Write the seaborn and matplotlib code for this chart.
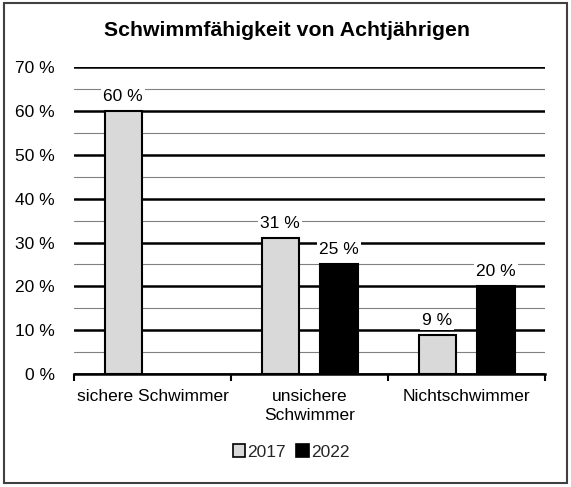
import matplotlib
matplotlib.use("Agg")
import matplotlib.pyplot as plt
import seaborn as sns
import pandas as pd
import numpy as np
from matplotlib.patches import Rectangle, Patch

categories = ["sichere Schwimmer", "unsichere\nSchwimmer", "Nichtschwimmer"]
years = ["2017", "2022"]
values_2017 = [60, 31, 9]
values_2022 = [np.nan, 25, 20]
colors = ["#d9d9d9", "#000000"]

sns.set_theme(style="white")
plt.rcParams['font.family'] = ['Liberation Sans', 'DejaVu Sans']

df = pd.DataFrame({
    "Kategorie": categories * 2,
    "Jahr": [years[0]] * 3 + [years[1]] * 3,
    "Anteil": values_2017 + values_2022,
})

FS = 12.5

fig = plt.figure(figsize=(5.71, 4.87), dpi=100)
ax = fig.add_axes([0.1296, 0.232, 0.825, 0.63])
sns.barplot(data=df, x="Kategorie", y="Anteil", hue="Jahr", order=categories,
            hue_order=years, palette=colors, edgecolor="black", linewidth=1.5,
            width=0.75, gap=0.37, ax=ax, legend=False, zorder=3)

for cont in ax.containers:
    labels = ax.bar_label(cont, fmt="{:.0f} %", padding=5, fontsize=FS, color="black")
    for t in labels:
        t.set_bbox(dict(facecolor="white", edgecolor="none", pad=1.5))
        t.set_zorder(5)

ax.set_ylim(0, 70)
ax.set_xlim(-0.5, 2.5)
ax.set_yticks(range(0, 71, 10))
ax.set_yticks(range(5, 70, 10), minor=True)
ax.set_yticklabels([f"{v} %" for v in range(0, 71, 10)], fontsize=FS, color="black")
ax.set_axisbelow(True)
ax.grid(which="major", axis="y", color="black", lw=1.8)
ax.grid(which="minor", axis="y", color="#808080", lw=0.8)
ax.grid(axis="x", visible=False)

ax.set_xticks(range(3))
ax.set_xticklabels(categories, fontsize=FS, color="black", linespacing=1.35)
ax.set_xticks([-0.5, 0.5, 1.5, 2.5], minor=True)
ax.tick_params(axis="x", which="major", length=0, pad=11)
ax.tick_params(axis="x", which="minor", length=5, width=1.5, color="black", direction="out", bottom=True)
ax.tick_params(axis="y", which="both", length=0, pad=14)

for s in ["left", "right", "top"]:
    ax.spines[s].set_visible(False)
ax.spines["bottom"].set_color("black")
ax.spines["bottom"].set_linewidth(1.8)
ax.set_xlabel("")
ax.set_ylabel("")

handles = [Patch(facecolor=c, edgecolor="black", linewidth=1.2) for c in colors]
fig.legend(handles=handles, labels=years, loc="center", bbox_to_anchor=(0.51, 0.072),
           ncol=2, frameon=False, handlelength=0.7, handleheight=0.7,
           handletextpad=0.15, columnspacing=0.6, fontsize=FS)

fig.text(0.503, 0.938, "Schwimmfähigkeit von Achtjährigen", ha="center", va="center",
         fontsize=15.3, fontweight="bold", color="black")

fig.patches.append(Rectangle((0.007, 0.009), 0.986, 0.984, transform=fig.transFigure,
                             fill=False, edgecolor="#404040", linewidth=1.5))

fig.savefig("out.png", dpi=100)
